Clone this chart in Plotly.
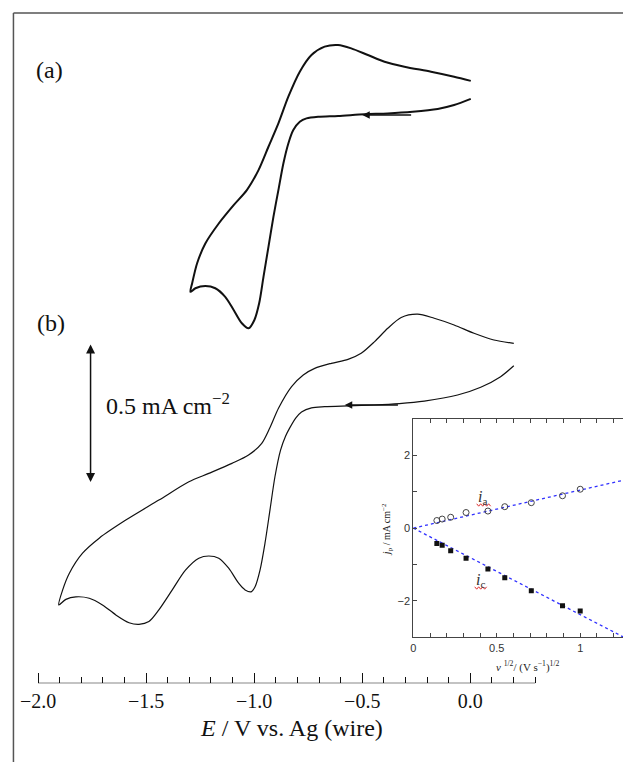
import plotly.graph_objects as go

# ---------------- data ----------------
# Curve (a): potential E / V vs Ag, current density j / mA cm^-2 (relative to its baseline)
E_a = [0.002, -0.075, -0.151, -0.267, -0.382, -0.489, -0.612, -0.704, -0.758, -0.789,
       -0.819, -0.842, -0.865, -0.888, -0.911, -0.934, -0.957, -0.977, -0.999, -1.026,
       -1.057, -1.095, -1.134, -1.180, -1.226, -1.272, -1.295,
       -1.287, -1.264, -1.226, -1.164, -1.095, -1.034, -0.980, -0.934, -0.888, -0.842,
       -0.789, -0.735, -0.674, -0.612, -0.551, -0.474, -0.397, -0.305, -0.182, -0.075, 0.002]
j_a = [0.058, 0.036, 0.022, 0.012, 0.006, 0.003, -0.003, -0.006, -0.012, -0.024,
       -0.054, -0.102, -0.174, -0.270, -0.366, -0.474, -0.582, -0.677, -0.737, -0.767,
       -0.749, -0.701, -0.654, -0.623, -0.615, -0.623, -0.636,
       -0.605, -0.533, -0.462, -0.390, -0.324, -0.270, -0.198, -0.114, -0.030, 0.066,
       0.156, 0.216, 0.246, 0.252, 0.240, 0.216, 0.192, 0.174, 0.156, 0.138, 0.123]

# Curve (b)
E_b = [0.201, 0.140, 0.048, -0.059, -0.213, -0.328, -0.443, -0.566, -0.674, -0.735,
       -0.781, -0.808, -0.836, -0.855, -0.878, -0.904, -0.927, -0.950, -0.973, -0.996,
       -1.014, -1.042, -1.072, -1.118, -1.164, -1.210, -1.256, -1.318, -1.379, -1.441,
       -1.487, -1.533, -1.579, -1.640, -1.702, -1.763, -1.825, -1.871, -1.904,
       -1.886, -1.855, -1.794, -1.717, -1.594, -1.441, -1.302, -1.210, -1.103, -1.026,
       -0.965, -0.928, -0.887, -0.827, -0.773, -0.720, -0.643, -0.566, -0.505, -0.443,
       -0.382, -0.320, -0.244, -0.167, -0.075, 0.017, 0.109, 0.201]
j_b = [0.141, 0.102, 0.064, 0.036, 0.014, 0.005, 0.000, -0.003, -0.006, -0.010,
       -0.025, -0.047, -0.083, -0.112, -0.162, -0.258, -0.378, -0.497, -0.594, -0.654,
       -0.672, -0.665, -0.641, -0.587, -0.551, -0.543, -0.551, -0.594, -0.665, -0.737,
       -0.779, -0.789, -0.783, -0.755, -0.719, -0.695, -0.690, -0.699, -0.719,
       -0.665, -0.605, -0.533, -0.479, -0.414, -0.342, -0.276, -0.246, -0.210, -0.180,
       -0.138, -0.083, -0.011, 0.066, 0.108, 0.132, 0.150, 0.164, 0.186, 0.228,
       0.276, 0.315, 0.327, 0.312, 0.288, 0.258, 0.234, 0.222]

OFFSET_A = 2.044   # vertical offset of curve (a), mA cm^-2
OFFSET_B = 1.001   # vertical offset of curve (b), mA cm^-2
SCALE_BAR = 0.5    # mA cm^-2

x_tick_vals = [-2.0, -1.5, -1.0, -0.5, 0.0]
x_tick_text = ["\u22122.0", "\u22121.5", "\u22121.0", "\u22120.5", "0.0"]
x_minor_vals = [round(-2.0 + 0.1 * k, 1) for k in range(24)]

# Inset: peak current vs square root of scan rate
v_half = [0.141, 0.173, 0.224, 0.316, 0.447, 0.548, 0.707, 0.894, 1.0]
ip_a = [0.21, 0.25, 0.30, 0.43, 0.47, 0.59, 0.70, 0.89, 1.07]
ip_c = [-0.42, -0.47, -0.62, -0.83, -1.12, -1.36, -1.72, -2.13, -2.28]
fit_x = [0.0, 1.3]
fit_a = [0.0, 1.36]
fit_c = [0.0, -3.09]

# ---------------- figure ----------------
W, H = 623, 762
SERIF = "Liberation Serif"
SANS = "Liberation Sans"

def px(x):
    return x / W

def py(y):
    return (H - y) / H

fig = go.Figure()

fig.add_trace(go.Scatter(x=E_a, y=[v + OFFSET_A for v in j_a], mode="lines",
                         line=dict(color="#111", width=2.0, shape="spline", smoothing=0.8),
                         xaxis="x", yaxis="y", showlegend=False))
fig.add_trace(go.Scatter(x=E_b, y=[v + OFFSET_B for v in j_b], mode="lines",
                         line=dict(color="#111", width=1.2, shape="spline", smoothing=0.8),
                         xaxis="x", yaxis="y", showlegend=False))

# inset
fig.add_trace(go.Scatter(x=fit_x, y=fit_a, mode="lines",
                         line=dict(color="#3030ff", width=1.3, dash="dot"),
                         xaxis="x2", yaxis="y2", showlegend=False))
fig.add_trace(go.Scatter(x=fit_x, y=fit_c, mode="lines",
                         line=dict(color="#3030ff", width=1.3, dash="dot"),
                         xaxis="x2", yaxis="y2", showlegend=False))
fig.add_trace(go.Scatter(x=v_half, y=ip_a, mode="markers",
                         marker=dict(symbol="circle-open", size=6, color="#444", line=dict(width=1)),
                         xaxis="x2", yaxis="y2", showlegend=False))
fig.add_trace(go.Scatter(x=v_half, y=ip_c, mode="markers",
                         marker=dict(symbol="square", size=5, color="#111"),
                         xaxis="x2", yaxis="y2", showlegend=False))

main_bottom = py(683.3)
x_lo = -469.6 / 217.2
x_hi = (W - 469.6) / 217.2
y_hi = 683.3 / 278.0

fig.update_layout(
    width=W, height=H,
    margin=dict(l=0, r=0, t=0, b=0),
    paper_bgcolor="white", plot_bgcolor="rgba(0,0,0,0)",
    showlegend=False,
    xaxis=dict(domain=[0, 1], range=[x_lo, x_hi], showline=False, showgrid=False, zeroline=False,
               tickmode="array", tickvals=x_tick_vals, ticktext=x_tick_text,
               ticks="inside", ticklen=10, tickwidth=1.2, tickcolor="#111",
               ticklabelstandoff=4,
               tickfont=dict(family=SERIF, size=20, color="#111"),
               minor=dict(tickvals=x_minor_vals, ticks="inside", ticklen=6, tickwidth=1.2,
                          tickcolor="#111", showgrid=False),
               anchor="y", fixedrange=True),
    yaxis=dict(domain=[main_bottom, 1], range=[0, y_hi], visible=False, fixedrange=True),
    xaxis2=dict(domain=[px(412.3), 1], range=[0, (W - 412.3) / 167.7], anchor="y2",
                showline=True, linecolor="#444", linewidth=1, mirror="allticks",
                showgrid=False, zeroline=False,
                tickmode="array", tickvals=[0, 0.5, 1], ticktext=["0", "0.5", "1"],
                ticks="inside", ticklen=4, tickcolor="#444",
                minor=dict(tickvals=[0.1, 0.2, 0.3, 0.4, 0.6, 0.7, 0.8, 0.9, 1.1, 1.2],
                           ticks="inside", ticklen=4, tickcolor="#444", showgrid=False),
                tickfont=dict(family=SANS, size=11, color="#333"), fixedrange=True),
    yaxis2=dict(domain=[py(637.3), py(419)], range=[-3, 3], anchor="x2",
                showline=True, linecolor="#444", linewidth=1, mirror=False,
                showgrid=False, zeroline=False,
                tickmode="array", tickvals=[-2, 0, 2], ticktext=["\u22122", "0", "2"],
                ticks="inside", ticklen=4, tickcolor="#444",
                minor=dict(tickvals=[-1, 1], ticks="inside", ticklen=4, tickcolor="#444",
                           showgrid=False),
                tickfont=dict(family=SANS, size=11, color="#333"), fixedrange=True),
)

shapes = [
    # outer frame (left and top)
    dict(type="line", xref="paper", yref="paper", x0=px(10.5), x1=px(10.5), y0=0, y1=py(13),
         line=dict(color="#555", width=1.5)),
    dict(type="line", xref="paper", yref="paper", x0=px(10.5), x1=1, y0=py(13), y1=py(13),
         line=dict(color="#555", width=1.5)),
    # main potential axis line
    dict(type="line", xref="x", yref="y", x0=x_tick_vals[0], x1=x_minor_vals[-1], y0=0, y1=0,
         line=dict(color="#111", width=1.2)),
]

def squiggle(x0, x1, y):
    pts = []
    n = 0
    x = x0
    while x <= x1 + 1e-9:
        yy = y + (1.2 if n % 2 else -1.2)
        pts.append((px(x), py(yy)))
        x += 2.0
        n += 1
    return "M " + " L ".join(f"{a:.5f},{b:.5f}" for a, b in pts)

shapes.append(dict(type="path", xref="paper", yref="paper", path=squiggle(476, 490, 505),
                   line=dict(color="#e03030", width=1)))
shapes.append(dict(type="path", xref="paper", yref="paper", path=squiggle(474, 487, 588),
                   line=dict(color="#e03030", width=1)))
fig.update_layout(shapes=shapes)

ann = []
# scale bar
ann.append(dict(x=-1.757, y=0.724, ax=-1.757, ay=0.724 + SCALE_BAR, xref="x", yref="y",
                axref="x", ayref="y", text="", showarrow=True, arrowhead=2, arrowside="end+start",
                arrowsize=1.2, arrowwidth=1.5, arrowcolor="#111"))
ann.append(dict(x=-1.693, y=1.005, xref="x", yref="y", xanchor="left", yanchor="middle",
                text="0.5 mA cm<sup>\u22122</sup>", showarrow=False,
                font=dict(family=SERIF, size=24, color="#111")))
# scan direction arrows
ann.append(dict(x=-0.500, y=OFFSET_A, ax=-0.267, ay=OFFSET_A, xref="x", yref="y",
                axref="x", ayref="y", text="", showarrow=True, arrowhead=2, arrowsize=1,
                arrowwidth=1.5, arrowcolor="#111"))
ann.append(dict(x=-0.581, y=OFFSET_B, ax=-0.328, ay=OFFSET_B, xref="x", yref="y",
                axref="x", ayref="y", text="", showarrow=True, arrowhead=2, arrowsize=1,
                arrowwidth=1.5, arrowcolor="#111"))
# panel labels
ann.append(dict(x=px(47), y=py(70.5), xref="paper", yref="paper", text="(a)", showarrow=False,
                xanchor="center", yanchor="middle", font=dict(family=SERIF, size=24, color="#111")))
ann.append(dict(x=px(48), y=py(323), xref="paper", yref="paper", text="(b)", showarrow=False,
                xanchor="center", yanchor="middle", font=dict(family=SERIF, size=24, color="#111")))
# main axis title
ann.append(dict(x=px(290), y=py(728), xref="paper", yref="paper",
                text="<i>E</i> / V vs. Ag (wire)", showarrow=False,
                xanchor="center", yanchor="middle", font=dict(family=SERIF, size=24, color="#111")))
# inset titles
ann.append(dict(x=px(528), y=py(666), xref="paper", yref="paper",
                text="<i>v</i> <sup>1/2</sup>/ (V s<sup>\u22121</sup>)<sup>1/2</sup>",
                showarrow=False, xanchor="center", yanchor="middle",
                font=dict(family=SERIF, size=11, color="#222")))
ann.append(dict(x=px(386), y=py(530), xref="paper", yref="paper",
                text="<i>j</i><sub>p</sub> / mA cm<sup>\u22122</sup>", textangle=-90,
                showarrow=False, xanchor="center", yanchor="middle",
                font=dict(family=SERIF, size=10, color="#222")))
ann.append(dict(x=0.416, y=0.85, xref="x2", yref="y2", text="<i>i</i><sub>a</sub>",
                showarrow=False, font=dict(family=SERIF, size=16, color="#333")))
ann.append(dict(x=0.405, y=-1.45, xref="x2", yref="y2", text="<i>i</i><sub>c</sub>",
                showarrow=False, font=dict(family=SERIF, size=16, color="#333")))
fig.update_layout(annotations=ann)

fig.write_html("out.html")
